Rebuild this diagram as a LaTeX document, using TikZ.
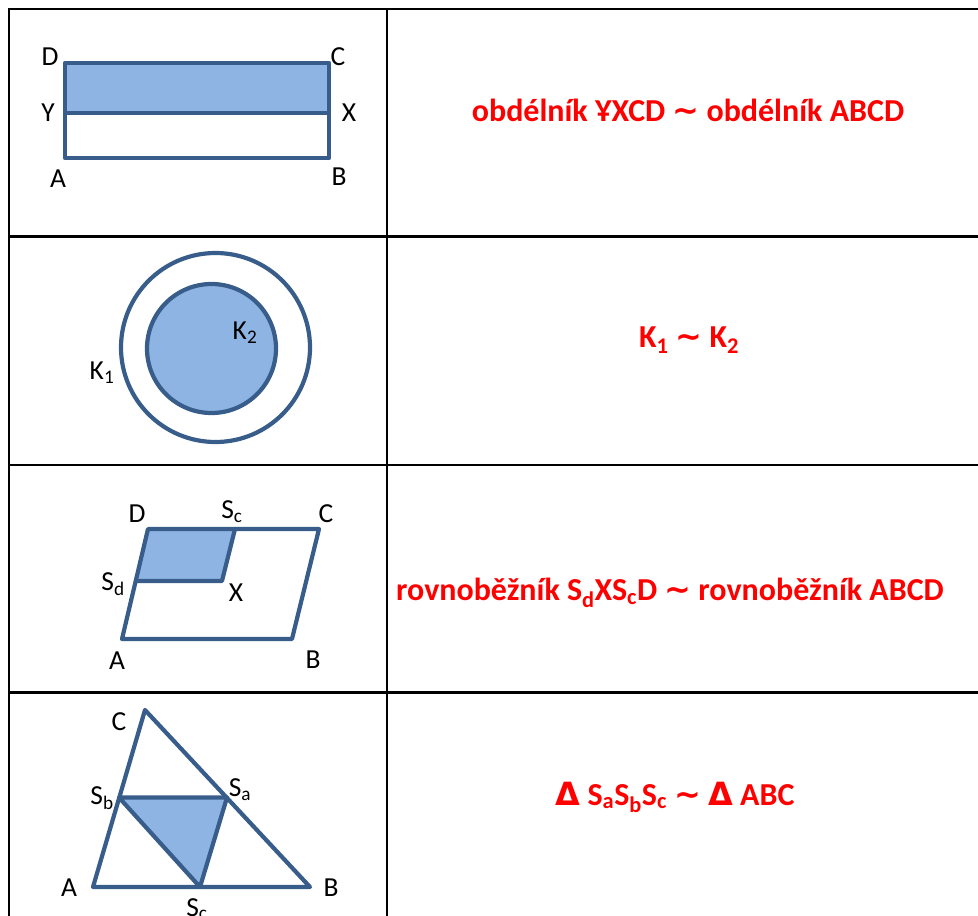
\documentclass[tikz,border=0pt]{standalone}
\usepackage{fontspec}
\setmainfont{Carlito}
\newfontfamily\symfont{DejaVu Sans}
\definecolor{edgeblue}{HTML}{385D8A}
\definecolor{fillblue}{HTML}{8EB4E3}
\newcommand{\sbs}[1]{\textsubscript{#1}}
\newcommand{\simsym}{{\symfont\bfseries ∼}}
\newcommand{\trisym}{{\symfont\bfseries Δ}}
\begin{document}
\begin{tikzpicture}[x=1pt,y=-1pt,
  fig/.style={draw=edgeblue, line width=4.2pt, line join=round, line cap=round},
  lbl/.style={font=\fontsize{27.5}{30}\selectfont, inner sep=0pt},
  eq/.style={text=red, font=\bfseries\fontsize{32}{36}\selectfont, inner sep=0pt},
  gridline/.style={line width=2.5pt, black}]
\useasboundingbox (0,0) rectangle (978,916);
% table
\draw[gridline] (9,1000) -- (9,9) -- (1000,9);
\draw[gridline] (387,9) -- (387,1000);
\draw[gridline] (9,236.5) -- (1000,236.5);
\draw[gridline] (9,465) -- (1000,465);
\draw[gridline] (9,692.5) -- (1000,692.5);
% rectangle
\coordinate (rA) at (65,158); \coordinate (rB) at (329,158);
\coordinate (rC) at (329,63); \coordinate (rD) at (65,63);
\coordinate (rX) at (329,113); \coordinate (rY) at (65,113);
\fill[fillblue] (rD) -- (rC) -- (rX) -- (rY) -- cycle;
\draw[fig] (rA) -- (rB) -- (rC) -- (rD) -- cycle;
\draw[fig] (rY) -- (rX);
\node[lbl] (lrD) at (50,57) {D};
\node[lbl] (lrC) at (338,57) {C};
\node[lbl] (lrY) at (48,113) {Y};
\node[lbl] (lrX) at (349,113) {X};
\node[lbl] (lrA) at (58,179) {A};
\node[lbl] (lrB) at (339,177) {B};
\node[eq] (t1) at (688,110) {obdélník ҰXCD \simsym{} obdélník ABCD};
% circles
\draw[fig] (215.5,347.5) circle[radius=94.5];
\draw[fig, fill=fillblue] (211.5,348.5) circle[radius=64.5];
\node[lbl] (lK2) at (245,333) {K\sbs{2}};
\node[lbl] (lK1) at (102,373) {K\sbs{1}};
\node[eq] (t2) at (689,340) {K\sbs{1} \simsym{} K\sbs{2}};
% parallelogram
\coordinate (pA) at (122,639); \coordinate (pB) at (292,639);
\coordinate (pC) at (319,529); \coordinate (pD) at (148,529);
\coordinate (pSc) at (235,529); \coordinate (pSd) at (136,581);
\coordinate (pX) at (222,581);
\fill[fillblue] (pD) -- (pSc) -- (pX) -- (pSd) -- cycle;
\draw[fig] (pA) -- (pB) -- (pC) -- (pD) -- cycle;
\draw[fig] (pSd) -- (pX) -- (pSc);
\node[lbl] (lpD) at (137,514) {D};
\node[lbl] (lpSc) at (232,512) {S\sbs{c}};
\node[lbl] (lpC) at (326,514) {C};
\node[lbl] (lpSd) at (113,584) {S\sbs{d}};
\node[lbl] (lpX) at (236,593) {X};
\node[lbl] (lpA) at (117,661) {A};
\node[lbl] (lpB) at (313,660) {B};
\node[eq] (t3) at (670,593) {rovnoběžník S\sbs{d}XS\sbs{c}D \simsym{} rovnoběžník ABCD};
% triangle
\coordinate (tA) at (93,887); \coordinate (tB) at (310,887);
\coordinate (tC) at (145,710);
\coordinate (tSa) at (227,797.5); \coordinate (tSb) at (119,797.5);
\coordinate (tSc) at (200,887);
\fill[fillblue] (tSa) -- (tSb) -- (tSc) -- cycle;
\draw[fig] (tA) -- (tB) -- (tC) -- cycle;
\draw[fig] (tSa) -- (tSb) -- (tSc) -- cycle;
\node[lbl] (ltC) at (119,722) {C};
\node[lbl] (ltSb) at (102,798) {S\sbs{b}};
\node[lbl] (ltSa) at (240,790) {S\sbs{a}};
\node[lbl] (ltA) at (69,888) {A};
\node[lbl] (ltB) at (331,888) {B};
\node[lbl] (ltSc) at (197,909) {S\sbs{c}};
\node[eq] (t4) at (675,797) {\trisym{} S\sbs{a}S\sbs{b}S\sbs{c} \simsym{} \trisym{} ABC};
\end{tikzpicture}
\end{document}
